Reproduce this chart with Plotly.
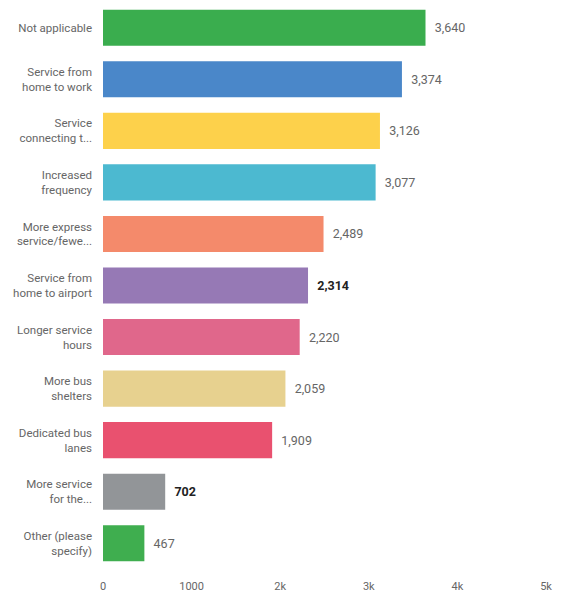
import plotly.graph_objects as go

categories = [
    "Not applicable",
    "Service from<br>home to work",
    "Service<br>connecting t...",
    "Increased<br>frequency",
    "More express<br>service/fewe...",
    "Service from<br>home to airport",
    "Longer service<br>hours",
    "More bus<br>shelters",
    "Dedicated bus<br>lanes",
    "More service<br>for the...",
    "Other (please<br>specify)",
]
values = [3640, 3374, 3126, 3077, 2489, 2314, 2220, 2059, 1909, 702, 467]
colors = ["#3aad4e", "#4a87c9", "#fdd14b", "#4cb9d0", "#f48a6b", "#9679b5",
          "#e0678b", "#e7d18f", "#e9516f", "#929598", "#3fae4f"]
label_colors = ["#666666", "#666666", "#666666", "#666666", "#666666", "#222222",
                "#666666", "#666666", "#666666", "#222222", "#666666"]
bold_labels = [False, False, False, False, False, True, False, False, False, True, False]
tick_vals = [0, 1000, 2000, 3000, 4000, 5000]
tick_text = ["0", "1000", "2k", "3k", "4k", "5k"]

texts = []
for v, b in zip(values, bold_labels):
    s = f"{v:,}"
    if b:
        s = "<b>" + s + "</b>"
    texts.append("\u00a0\u00a0" + s)

fig = go.Figure(go.Bar(
    x=values,
    y=categories,
    orientation="h",
    marker=dict(color=colors, line=dict(width=0)),
    text=texts,
    textposition="outside",
    textfont=dict(size=12.5, color=label_colors, family="Roboto"),
    cliponaxis=False,
    hoverinfo="skip",
))

fig.update_layout(
    width=568, height=595,
    margin=dict(l=103, r=22, t=2, b=26, autoexpand=False),
    paper_bgcolor="white", plot_bgcolor="white",
    bargap=0.3,
    showlegend=False,
    font=dict(family="Roboto", color="#666666"),
)
fig.update_yaxes(
    autorange="reversed", automargin=False,
    showgrid=False, zeroline=False, showline=False,
    tickfont=dict(size=11.5, color="#666666"),
    ticklabelstandoff=10,
)
fig.update_xaxes(
    range=[0, 5000], automargin=False,
    tickvals=tick_vals, ticktext=tick_text,
    showgrid=False, zeroline=False, showline=False,
    ticks="outside", ticklen=7, tickcolor="white",
    tickfont=dict(size=11, color="#666666"),
)

fig.write_html("out.html")
